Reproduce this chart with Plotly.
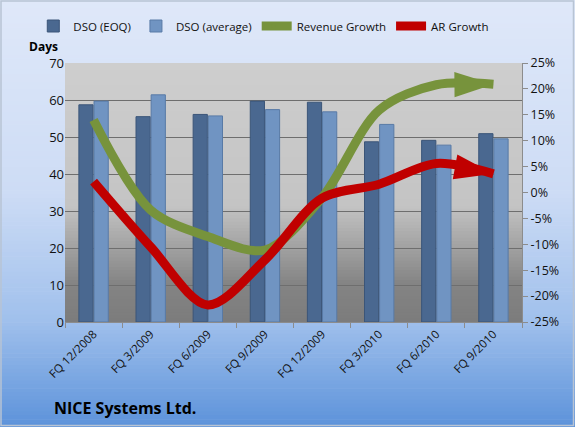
import plotly.graph_objects as go

categories = ["FQ 12/2008", "FQ 3/2009", "FQ 6/2009", "FQ 9/2009",
              "FQ 12/2009", "FQ 3/2010", "FQ 6/2010", "FQ 9/2010"]
dso_eoq = [58.7, 55.5, 56.1, 59.7, 59.4, 48.7, 49.1, 50.9]
dso_avg = [59.7, 61.4, 55.7, 57.4, 56.8, 53.4, 47.8, 49.5]
revenue_growth = [14.0, -3.4, -8.5, -11.1, -1.0, 15.9, 20.8, 20.9]
ar_growth = [2.1, -10.5, -21.7, -13.0, -1.1, 1.6, 5.6, 3.6]
left_ticks = list(range(0, 71, 10))
right_ticks = list(range(-25, 26, 5))
right_labels = ["%d%%" % v for v in right_ticks]

W, H = 575, 427
ML, MR, MT, MB = 65, 53, 63, 105
pw, ph = W - ML - MR, H - MT - MB

def lerp(c1, c2, t):
    return tuple(int(round(a + (b - a) * t)) for a, b in zip(c1, c2))

def grad(stops, t):
    for (t0, c0), (t1, c1) in zip(stops, stops[1:]):
        if t0 <= t <= t1:
            return lerp(c0, c1, (t - t0) / (t1 - t0) if t1 > t0 else 0)
    return stops[-1][1]

shapes = []
paper_stops = [(0.0, (223, 232, 249)), (0.45, (205, 220, 245)),
               (0.75, (160, 192, 236)), (1.0, (92, 146, 218))]
N = 110
for i in range(N):
    y0p = H * i / N
    y1p = H * (i + 1) / N + 0.6
    c = grad(paper_stops, (i + 0.5) / N)
    shapes.append(dict(type="rect", xref="paper", yref="paper", layer="below",
                       x0=-ML / pw, x1=(W - ML) / pw,
                       y0=(H - MB - y1p) / ph, y1=(H - MB - y0p) / ph,
                       fillcolor="rgb(%d,%d,%d)" % c, line=dict(width=0)))
plot_stops = [(0.0, (206, 206, 206)), (0.55, (196, 196, 196)),
              (0.85, (132, 132, 132)), (1.0, (124, 124, 124))]
M = 80
for i in range(M):
    t0 = i / M
    t1 = (i + 1) / M
    c = grad(plot_stops, (t0 + t1) / 2)
    shapes.append(dict(type="rect", xref="paper", yref="paper", layer="below",
                       x0=0, x1=1, y0=1 - t1 - 0.003, y1=1 - t0,
                       fillcolor="rgb(%d,%d,%d)" % c, line=dict(width=0)))
shapes.append(dict(type="rect", xref="paper", yref="paper", layer="above",
                   x0=-(ML - 1) / pw, x1=(W - ML - 1.5) / pw,
                   y0=-(MB - 1.5) / ph, y1=(H - MB - 1) / ph,
                   line=dict(color="#b8c4d4", width=1.5)))

xs = list(range(len(categories)))

fig = go.Figure()
fig.add_trace(go.Bar(x=xs, y=dso_eoq, name="DSO (EOQ)",
                     marker=dict(color="#4a6890", line=dict(color="#3b5578", width=1))))
fig.add_trace(go.Bar(x=xs, y=dso_avg, name="DSO (average)",
                     marker=dict(color="#7094c2", line=dict(color="#587aa6", width=1))))

def arrow_sizes(n, s):
    return [0] * (n - 1) + [s]

for name, vals, col in [("Revenue Growth", revenue_growth, "#77933c"),
                        ("AR Growth", ar_growth, "#c00000")]:
    fig.add_trace(go.Scatter(x=xs, y=vals, name=name, yaxis="y2",
                             mode="lines+markers",
                             line=dict(color=col, width=9, shape="spline", smoothing=0.9),
                             marker=dict(symbol="arrow", size=arrow_sizes(len(xs), 41),
                                         angleref="previous", color=col, opacity=1,
                                         line=dict(width=0))))

font_family = "Open Sans, Liberation Sans, sans-serif"

fig.update_layout(
    width=W, height=H,
    margin=dict(l=ML, r=MR, t=MT, b=MB, autoexpand=False),
    paper_bgcolor="#dfe8f9",
    plot_bgcolor="rgba(0,0,0,0)",
    font=dict(family=font_family, size=12, color="#111111"),
    barmode="group", bargap=0.47, bargroupgap=0.06,
    shapes=shapes,
    showlegend=True,
    legend=dict(orientation="h", x=0.435, xanchor="center", y=1 + (63 - 26) / ph,
                yanchor="middle", bgcolor="rgba(0,0,0,0)", font=dict(size=11.5),
                itemwidth=30, tracegroupgap=0),
    xaxis=dict(range=[-0.5, len(xs) - 0.5], tickmode="array", tickvals=xs,
               ticktext=categories, tickangle=-45, ticks="", showgrid=False,
               showline=True, linecolor="#8c8c8c", linewidth=1,
               tickfont=dict(size=11.5),
               minor=dict(tickmode="array", tickvals=[i - 0.5 for i in range(len(xs) + 1)],
                          ticks="outside", ticklen=5, tickcolor="#8c8c8c", showgrid=False)),
    yaxis=dict(range=[0, 70], tickvals=left_ticks, showgrid=True,
               gridcolor="#6e6e6e", gridwidth=1, zeroline=False, ticks="",
               showline=False, tickfont=dict(size=13)),
    yaxis2=dict(range=[-25, 25], tickmode="array", tickvals=right_ticks,
                ticktext=right_labels,
                overlaying="y", side="right", showgrid=False, zeroline=False,
                ticks="outside", ticklen=5, tickcolor="#8c8c8c",
                showline=True, linecolor="#8c8c8c", tickfont=dict(size=12.5)),
    annotations=[
        dict(text="<b>Days</b>", xref="paper", yref="paper",
             x=-22 / pw, y=(H - MB - 47) / ph, xanchor="center", yanchor="middle",
             showarrow=False, font=dict(size=12, color="#000000")),
        dict(text="<b>NICE Systems Ltd.</b>", xref="paper", yref="paper",
             x=-(ML - 52) / pw, y=(H - MB - 408) / ph, xanchor="left", yanchor="middle",
             showarrow=False, font=dict(size=16, color="#000000")),
    ],
)

fig.write_html("out.html")
